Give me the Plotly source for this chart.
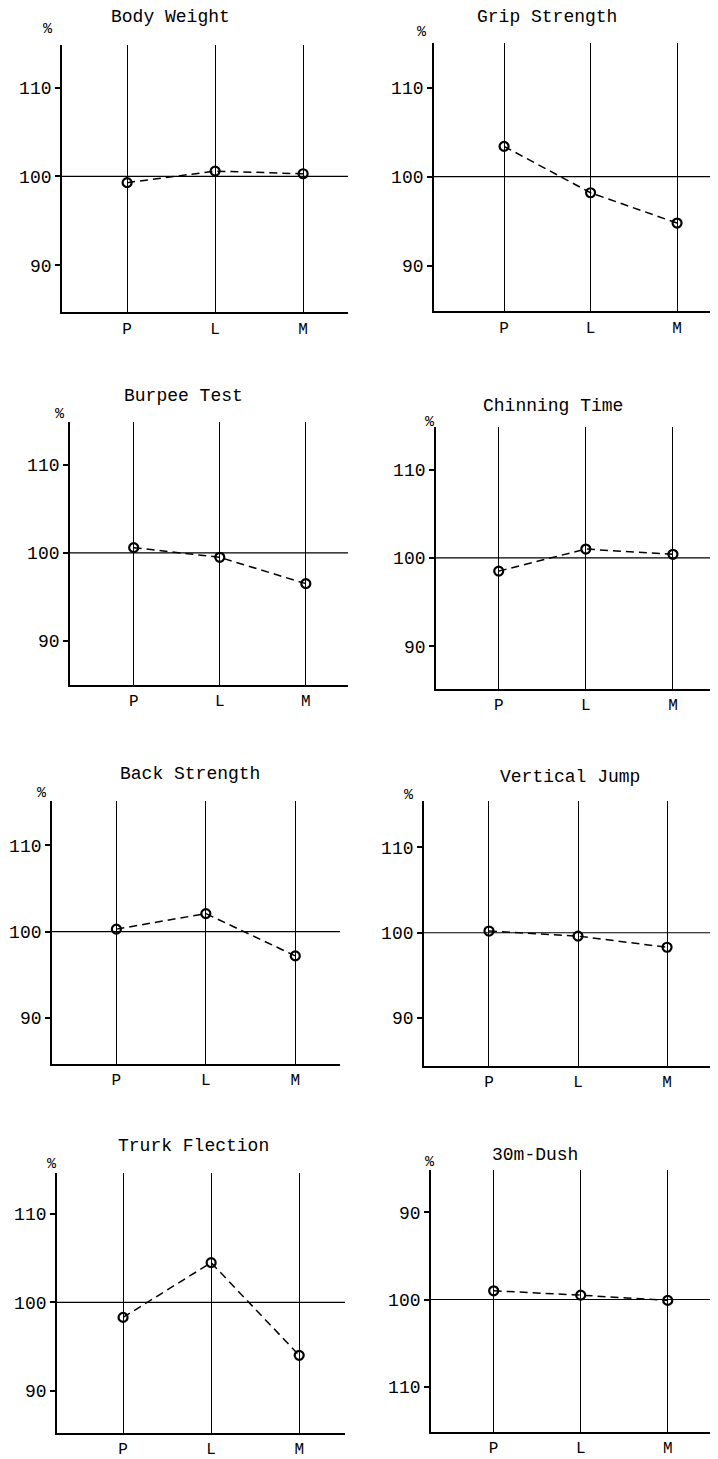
import plotly.graph_objects as go

# ---------------- data ----------------
categories = ["P", "L", "M"]
titles = ["Body Weight", "Grip Strength", "Burpee Test", "Chinning Time",
          "Back Strength", "Vertical Jump", "Trurk Flection", "30m-Dush"]
body_weight = [99.3, 100.6, 100.3]
grip_strength = [103.4, 98.2, 94.8]
burpee_test = [100.6, 99.5, 96.5]
chinning_time = [98.5, 101.0, 100.4]
back_strength = [100.3, 102.1, 97.2]
vertical_jump = [100.2, 99.6, 98.3]
trurk_flection = [98.3, 104.5, 94.0]
dash_30m = [99.0, 99.5, 100.1]
series = [body_weight, grip_strength, burpee_test, chinning_time,
          back_strength, vertical_jump, trurk_flection, dash_30m]
y_ticks = [90, 100, 110]
y_tick_labels = ["90", "100", "110"]
reference_level = 100

# ---------------- layout (pixel geometry) ----------------
# The page body has an 8px default margin, so the figure is drawn
# 8px in from the top-left corner of the window.
OFF = 8
W, H = 718 - OFF, 1459 - OFF


def px_x(v):
    return (v - OFF) / W


def px_y(v):
    return 1 - (v - OFF) / H


# left, right, top, bottom (window px); x range (category units); y range
panels = [
    dict(l=62, r=348, t=45, b=313, xr=[-0.74, 2.51], yr=[84.7, 114.8],
         title=(170, 17), pct=(48, 30)),
    dict(l=434, r=716, t=43, b=312, xr=[-0.81, 2.45], yr=[84.9, 115.0],
         title=(547, 17), pct=(422, 33)),
    dict(l=70, r=348, t=423, b=686, xr=[-0.74, 2.49], yr=[85.0, 114.9],
         title=(183, 397), pct=(60, 415)),
    dict(l=436, r=713, t=428, b=690, xr=[-0.72, 2.46], yr=[85.2, 114.8],
         title=(553, 407), pct=(430, 423)),
    dict(l=52, r=340, t=803, b=1066, xr=[-0.72, 2.50], yr=[84.7, 115.1],
         title=(190, 776), pct=(42, 795)),
    dict(l=424, r=716, t=803, b=1068, xr=[-0.73, 2.55], yr=[84.4, 115.4],
         title=(570, 779), pct=(409, 797)),
    dict(l=57, r=345, t=1175, b=1436, xr=[-0.75, 2.52], yr=[85.2, 114.7],
         title=(193, 1148), pct=(52, 1167)),
    dict(l=431, r=713, t=1172, b=1435, xr=[-0.72, 2.52], yr=[115.2, 85.1],
         title=(535, 1157), pct=(430, 1165)),
]

FONT = "Liberation Mono"
fig = go.Figure()
annotations = []
shapes = []
layout_axes = {}

for i, (p, vals, ttl) in enumerate(zip(panels, series, titles), start=1):
    xa = "x" if i == 1 else f"x{i}"
    ya = "y" if i == 1 else f"y{i}"
    fig.add_trace(go.Scatter(
        x=categories, y=vals, xaxis=xa, yaxis=ya, mode="lines+markers",
        line=dict(color="black", width=1.5, dash="8px,5px"),
        marker=dict(symbol="circle-open", size=9, color="black",
                    line=dict(width=2.2, color="black")),
        showlegend=False, hoverinfo="x+y",
    ))
    layout_axes[f"xaxis{i}" if i > 1 else "xaxis"] = dict(
        domain=[px_x(p["l"]), px_x(p["r"])], anchor=ya,
        type="category", range=p["xr"],
        showgrid=True, gridcolor="black", gridwidth=1.1,
        showline=True, linecolor="black", linewidth=2,
        ticks="", tickfont=dict(family=FONT, size=16, color="black"),
        zeroline=False, fixedrange=True,
    )
    layout_axes[f"yaxis{i}" if i > 1 else "yaxis"] = dict(
        domain=[px_y(p["b"]), px_y(p["t"])], anchor=xa,
        range=p["yr"], tickvals=y_ticks, ticktext=y_tick_labels,
        showgrid=False, showline=True, linecolor="black", linewidth=1.8,
        ticks="outside", ticklen=5, tickwidth=1.5, tickcolor="black",
        tickfont=dict(family=FONT, size=18, color="black"),
        zeroline=False, fixedrange=True,
    )
    shapes.append(dict(
        type="line", xref=f"{xa} domain", yref=ya,
        x0=0, x1=1, y0=reference_level, y1=reference_level,
        line=dict(color="black", width=1.2), layer="below",
    ))
    annotations.append(dict(
        text=ttl, xref="paper", yref="paper",
        x=px_x(p["title"][0]), y=px_y(p["title"][1]),
        xanchor="center", yanchor="middle", showarrow=False,
        font=dict(family=FONT, size=18, color="black"),
    ))
    annotations.append(dict(
        text="%", xref="paper", yref="paper",
        x=px_x(p["pct"][0]), y=px_y(p["pct"][1]),
        xanchor="center", yanchor="middle", showarrow=False,
        font=dict(family=FONT, size=15, color="black"),
    ))

fig.update_layout(
    width=W, height=H, margin=dict(l=0, r=0, t=0, b=0),
    paper_bgcolor="white", plot_bgcolor="white",
    annotations=annotations, shapes=shapes, **layout_axes,
)

fig.write_html("out.html")
